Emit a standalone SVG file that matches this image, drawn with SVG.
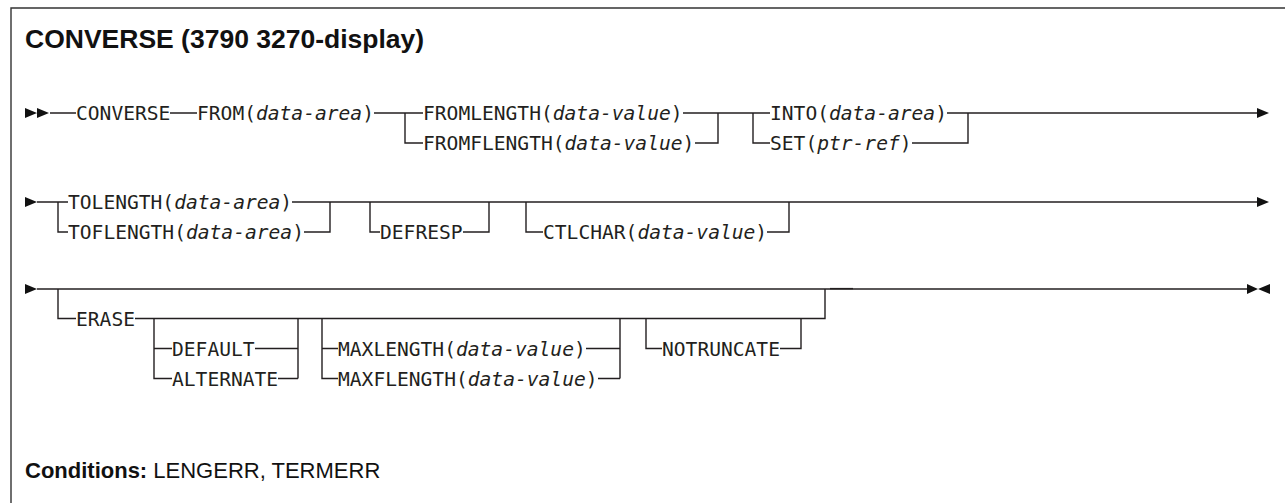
<svg xmlns="http://www.w3.org/2000/svg" width="1285" height="503" viewBox="0 0 1285 503">
<style>
.ln{fill:none;stroke:#231f20;stroke-width:1.4}
.frame{fill:none;stroke:#333;stroke-width:1.4}
.ah{fill:#111}
.kw{font-family:"DejaVu Sans Mono","Liberation Mono",monospace;font-size:19.6px;fill:#231f20}
.it{font-style:italic}
.title{font-family:"Liberation Sans",Arial,sans-serif;font-weight:bold;font-size:26.5px;fill:#111}
.cond{font-family:"Liberation Sans",Arial,sans-serif;font-size:22px;fill:#111}
</style>
<rect width="1285" height="503" fill="#fff"/>
<path class="frame" d="M11,503 V8 H1285"/>
<text class="title" x="25" y="48">CONVERSE (3790 3270-display)</text>

<g id="connectors">
<!-- row 1 -->
<path class="ln" d="M50,113 H76 M170,113 H197 M374,113 H423 M683,113 H770 M947,113 H1258"/>
<path class="ln" d="M405,113 V143 H423 M718,113 V143 H695"/>
<path class="ln" d="M753,113 V143 H770 M968,113 V143 H912"/>
<!-- row 2 -->
<path class="ln" d="M37,202 H68 M292,202 H1258"/>
<path class="ln" d="M58,202 V232 H68 M330,202 V232 H304"/>
<path class="ln" d="M370,202 V232 H380 M489,202 V232 H463"/>
<path class="ln" d="M526,202 V232 H543 M789,202 V232 H767"/>
<!-- row 3 -->
<path class="ln" d="M37,289 H1248"/>
<path class="ln" d="M830,288.6 H853" stroke-width="2"/>
<path class="ln" d="M58,289 V318.5 H76 M135,318.5 H825 V289"/>
<path class="ln" d="M154,318.5 V378.5 H172 M154,348.5 H172 M255,348.5 H298 M278,378.5 H298 M298,318.5 V378.5"/>
<path class="ln" d="M322,318.5 V378.5 H338 M322,348.5 H338 M586,348.5 H620 M598,378.5 H620 M620,318.5 V378.5"/>
<path class="ln" d="M646,318.5 V348.5 H662 M780,348.5 H801 V318.5"/>
<!-- arrowheads -->
<path class="ah" d="M25,108 L37,113 L25,118 Z M37,108 L49,113 L37,118 Z"/>
<path class="ah" d="M1257,108 L1269,113 L1257,118 Z"/>
<path class="ah" d="M25,197 L37,202 L25,207 Z"/>
<path class="ah" d="M1257,197 L1269,202 L1257,207 Z"/>
<path class="ah" d="M25,284 L37,289 L25,294 Z"/>
<path class="ah" d="M1247,284 L1258,289 L1247,294 Z M1270,284 L1258,289 L1270,294 Z"/>
</g>

<g id="n-converse"><text class="kw" x="76" y="120">CONVERSE</text></g>
<g id="n-from"><text class="kw" x="197" y="120">FROM(<tspan class="it">data-area</tspan>)</text></g>
<g id="n-fromlength"><text class="kw" x="423" y="120">FROMLENGTH(<tspan class="it">data-value</tspan>)</text></g>
<g id="n-fromflength"><text class="kw" x="423" y="150">FROMFLENGTH(<tspan class="it">data-value</tspan>)</text></g>
<g id="n-into"><text class="kw" x="770" y="120">INTO(<tspan class="it">data-area</tspan>)</text></g>
<g id="n-set"><text class="kw" x="770" y="150">SET(<tspan class="it">ptr-ref</tspan>)</text></g>

<g id="n-tolength"><text class="kw" x="68" y="209">TOLENGTH(<tspan class="it">data-area</tspan>)</text></g>
<g id="n-toflength"><text class="kw" x="68" y="239">TOFLENGTH(<tspan class="it">data-area</tspan>)</text></g>
<g id="n-defresp"><text class="kw" x="380" y="239">DEFRESP</text></g>
<g id="n-ctlchar"><text class="kw" x="543" y="239">CTLCHAR(<tspan class="it">data-value</tspan>)</text></g>

<g id="n-erase"><text class="kw" x="76" y="325.5">ERASE</text></g>
<g id="n-default"><text class="kw" x="172" y="355.5">DEFAULT</text></g>
<g id="n-alternate"><text class="kw" x="172" y="385.5">ALTERNATE</text></g>
<g id="n-maxlength"><text class="kw" x="338" y="355.5">MAXLENGTH(<tspan class="it">data-value</tspan>)</text></g>
<g id="n-maxflength"><text class="kw" x="338" y="385.5">MAXFLENGTH(<tspan class="it">data-value</tspan>)</text></g>
<g id="n-notruncate"><text class="kw" x="662" y="355.5">NOTRUNCATE</text></g>

<text class="cond" x="25" y="478"><tspan font-weight="bold">Conditions:</tspan> LENGERR, TERMERR</text>
</svg>
